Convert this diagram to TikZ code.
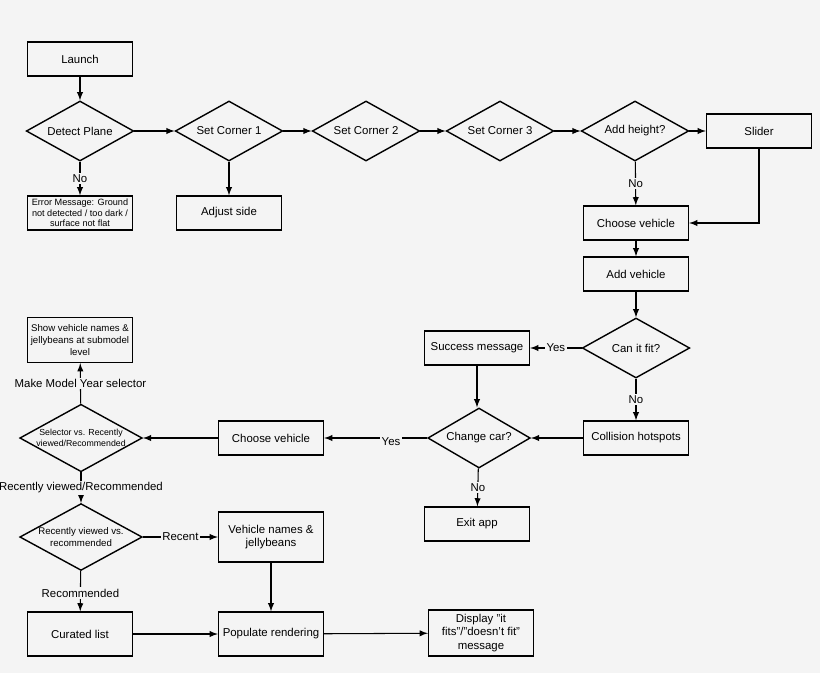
\documentclass[tikz,border=0pt]{standalone}
\usepackage{fontspec}
\setmainfont{Liberation Sans}
\usetikzlibrary{shapes.geometric}
\definecolor{paper}{HTML}{F4F4F4}
\tikzset{
  box/.style={draw,thick,rectangle,minimum width=2.1cm,minimum height=0.68cm,align=center,font=\fontsize{6.5}{7.5}\selectfont,inner sep=1pt},
  dec/.style={draw,thick,diamond,aspect=1.8,minimum width=2.15cm,minimum height=1.2cm,inner sep=0pt,align=center,font=\fontsize{6.5}{7.5}\selectfont},
  lab/.style={fill=paper,inner sep=1pt,font=\fontsize{6.5}{7.5}\selectfont},
  arr/.style={-latex,semithick}
}
\begin{document}
\begin{tikzpicture}[x=0.02cm,y=-0.02cm]
        \fill[paper] (0,0) rectangle (820,673);
        \useasboundingbox (0,0) rectangle (820,673);
        % top row
        \node[box] (launch) at (80,59) {Launch};
        \node[dec] (detect) at (80,131) {Detect Plane};
        \node[dec] (c1) at (229,131) {Set Corner 1};
        \node[dec] (c2) at (366,131) {Set Corner 2};
        \node[dec] (c3) at (500,131) {Set Corner 3};
        \node[dec] (height) at (635,131) {Add height?};
        \node[box] (slider) at (759,131) {Slider};
        \node[box,font=\fontsize{5.2}{6}\selectfont] (error) at (80,213) {Error Message: Ground\\not detected / too dark /\\surface not flat};
        \node[box] (side) at (229,213) {Adjust side};
        % right column
        \node[box] (choose) at (636,223) {Choose vehicle};
        \node[box] (add) at (636,274) {Add vehicle};
        \node[dec] (fit) at (636,348) {Can it fit?};
        \node[box] (success) at (477,348) {Success message};
        \node[box] (hot) at (636,438) {Collision hotspots};
        \node[dec,minimum width=2.05cm] (change) at (479,438) {Change car?};
        \node[box] (exit) at (477,524) {Exit app};
        % left part
        \node[box] (choose2) at (271,438) {Choose vehicle};
        \node[dec,minimum width=2.45cm,font=\fontsize{5}{6.5}\selectfont] (sel) at (81,438) {Selector vs. Recently\\viewed/Recommended};
        \node[box,minimum height=0.9cm,font=\fontsize{5.5}{7}\selectfont] (show) at (80,340) {Show vehicle names \&\\jellybeans at submodel\\level};
        \node[dec,minimum width=2.45cm,font=\fontsize{5.5}{7}\selectfont] (recent) at (81,537) {Recently viewed vs.\\recommended};
        \node[box,minimum height=1cm] (names) at (271,537) {Vehicle names \&\\jellybeans};
        \node[box,minimum height=0.88cm] (curated) at (80,634) {Curated list};
        \node[box,minimum height=0.88cm] (populate) at (271,634) {Populate rendering};
        \node[box,minimum height=0.92cm] (display) at (481,633) {Display "it\\fits"/"doesn't fit"\\message};
        % connectors
        \draw[arr] (launch) -- (detect);
        \draw[arr] (detect) -- (c1);
        \draw[arr] (c1) -- (c2);
        \draw[arr] (c2) -- (c3);
        \draw[arr] (c3) -- (height);
        \draw[arr] (height) -- (slider);
        \draw[arr] (detect) -- node[lab]{No} (error);
        \draw[arr] (c1) -- (side);
        \draw[arr] (height) -- node[lab]{No} (choose);
        \draw[arr] (slider) |- (choose);
        \draw[arr] (choose) -- (add);
        \draw[arr] (add) -- (fit);
        \draw[arr] (fit) -- node[lab]{Yes} (success);
        \draw[arr] (fit) -- node[lab]{No} (hot);
        \draw[arr] (success) -- (success |- change.north);
        \draw[arr] (hot) -- (change);
        \draw[arr] (change) -- node[lab]{No} (exit);
        \draw[arr] (change) -- node[lab,pos=0.35,yshift=-2]{Yes} (choose2);
        \draw[arr] (choose2) -- (sel);
        \draw[arr] (sel) -- node[lab]{Make Model Year selector} (show);
        \draw[arr] (sel) -- node[lab]{Recently viewed/Recommended} (recent);
        \draw[arr] (recent) -- node[lab]{Recent} (names);
        \draw[arr] (recent) -- node[lab,pos=0.55]{Recommended} (curated);
        \draw[arr] (names) -- (populate);
        \draw[arr] (curated) -- (populate);
        \draw[arr] (populate) -- (display);
    \end{tikzpicture}
\end{document}
